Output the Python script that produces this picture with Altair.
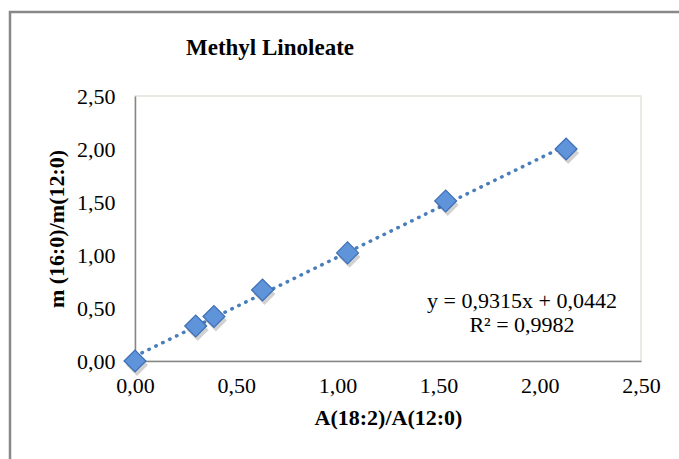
import altair as alt
import pandas as pd

x_vals = [0.00, 0.30, 0.39, 0.63, 1.05, 1.535, 2.13]
y_vals = [0.00, 0.33, 0.42, 0.67, 1.02, 1.51, 2.00]
title_text = "Methyl Linoleate"
x_title = "A(18:2)/A(12:0)"
y_title = "m (16:0)/m(12:0)"
eq_lines = ["y = 0,9315x + 0,0442", "R² = 0,9982"]

df = pd.DataFrame({"x": x_vals, "y": y_vals})

W, H = 506, 265
FONT = "Liberation Serif"
label_expr = "replace(format(datum.value, '.2f'), '.', ',')"

xs = alt.Scale(domain=[0, 2.5], nice=False)
ys = alt.Scale(domain=[0, 2.5], nice=False)

base = alt.Chart(df)

frame = alt.Chart(pd.DataFrame({"a": [0]})).mark_rect(
    fill=None, stroke="#888888", strokeWidth=2.5, clip=False
).encode(x=alt.value(-125), y=alt.value(-84), x2=alt.value(W + 80), y2=alt.value(H + 140))

trend = base.transform_regression("x", "y", extent=[0, 2.13]).mark_line(
    color="#4a7ebb", strokeWidth=3.5, strokeDash=[0.5, 7.2], strokeCap="round"
).encode(
    x=alt.X("x:Q", scale=xs),
    y=alt.Y("y:Q", scale=ys),
)

shadow = base.mark_point(
    shape="diamond", filled=True, size=480, color="#000000", opacity=0.18,
    xOffset=2, yOffset=4
).encode(x=alt.X("x:Q", scale=xs), y=alt.Y("y:Q", scale=ys))

points = base.mark_point(
    shape="diamond", filled=True, size=480, fill="#5f93da", stroke="#3d6fb5",
    strokeWidth=1.2, opacity=1
).encode(
    x=alt.X("x:Q", scale=xs, axis=alt.Axis(
        values=[0, 0.5, 1, 1.5, 2, 2.5], labelExpr=label_expr, title=x_title,
        grid=False, ticks=False, domainColor="#868686", domainWidth=1.5,
        labelFlush=False, labelOverlap=False,
        labelFont=FONT, labelFontSize=22, labelColor="#000000", labelPadding=14,
        titleFont=FONT, titleFontSize=22, titleFontWeight="bold", titleColor="#000000",
        titlePadding=11)),
    y=alt.Y("y:Q", scale=ys, axis=alt.Axis(
        values=[0, 0.5, 1, 1.5, 2, 2.5], labelExpr=label_expr, title=y_title,
        grid=False, ticks=False, domainColor="#868686", domainWidth=1.5,
        labelFlush=False, labelOverlap=False,
        labelFont=FONT, labelFontSize=22, labelColor="#000000", labelPadding=20,
        titleFont=FONT, titleFontSize=22, titleFontWeight="bold", titleColor="#000000",
        titlePadding=8)),
)

eq = alt.Chart(pd.DataFrame({"t": [eq_lines]})).mark_text(
    font=FONT, fontSize=22, color="#000000", align="center", baseline="middle",
    lineHeight=24
).encode(text="t:N", x=alt.value(387), y=alt.value(205))

title = alt.Chart(pd.DataFrame({"t": [title_text]})).mark_text(
    font=FONT, fontSize=23, fontWeight="bold", color="#000000", align="center",
    baseline="middle"
).encode(text="t:N", x=alt.value(135), y=alt.value(-48))

chart = alt.layer(frame, trend, shadow, points, eq, title).properties(
    width=W, height=H,
    autosize=alt.AutoSizeParams(type="none"),
    padding={"left": 135, "top": 96, "right": 38, "bottom": 98},
    background="#ffffff",
).configure_view(stroke="#e4e4dc", strokeWidth=1.5)

chart.save("out.html", embed_options={"renderer": "svg", "actions": False})
